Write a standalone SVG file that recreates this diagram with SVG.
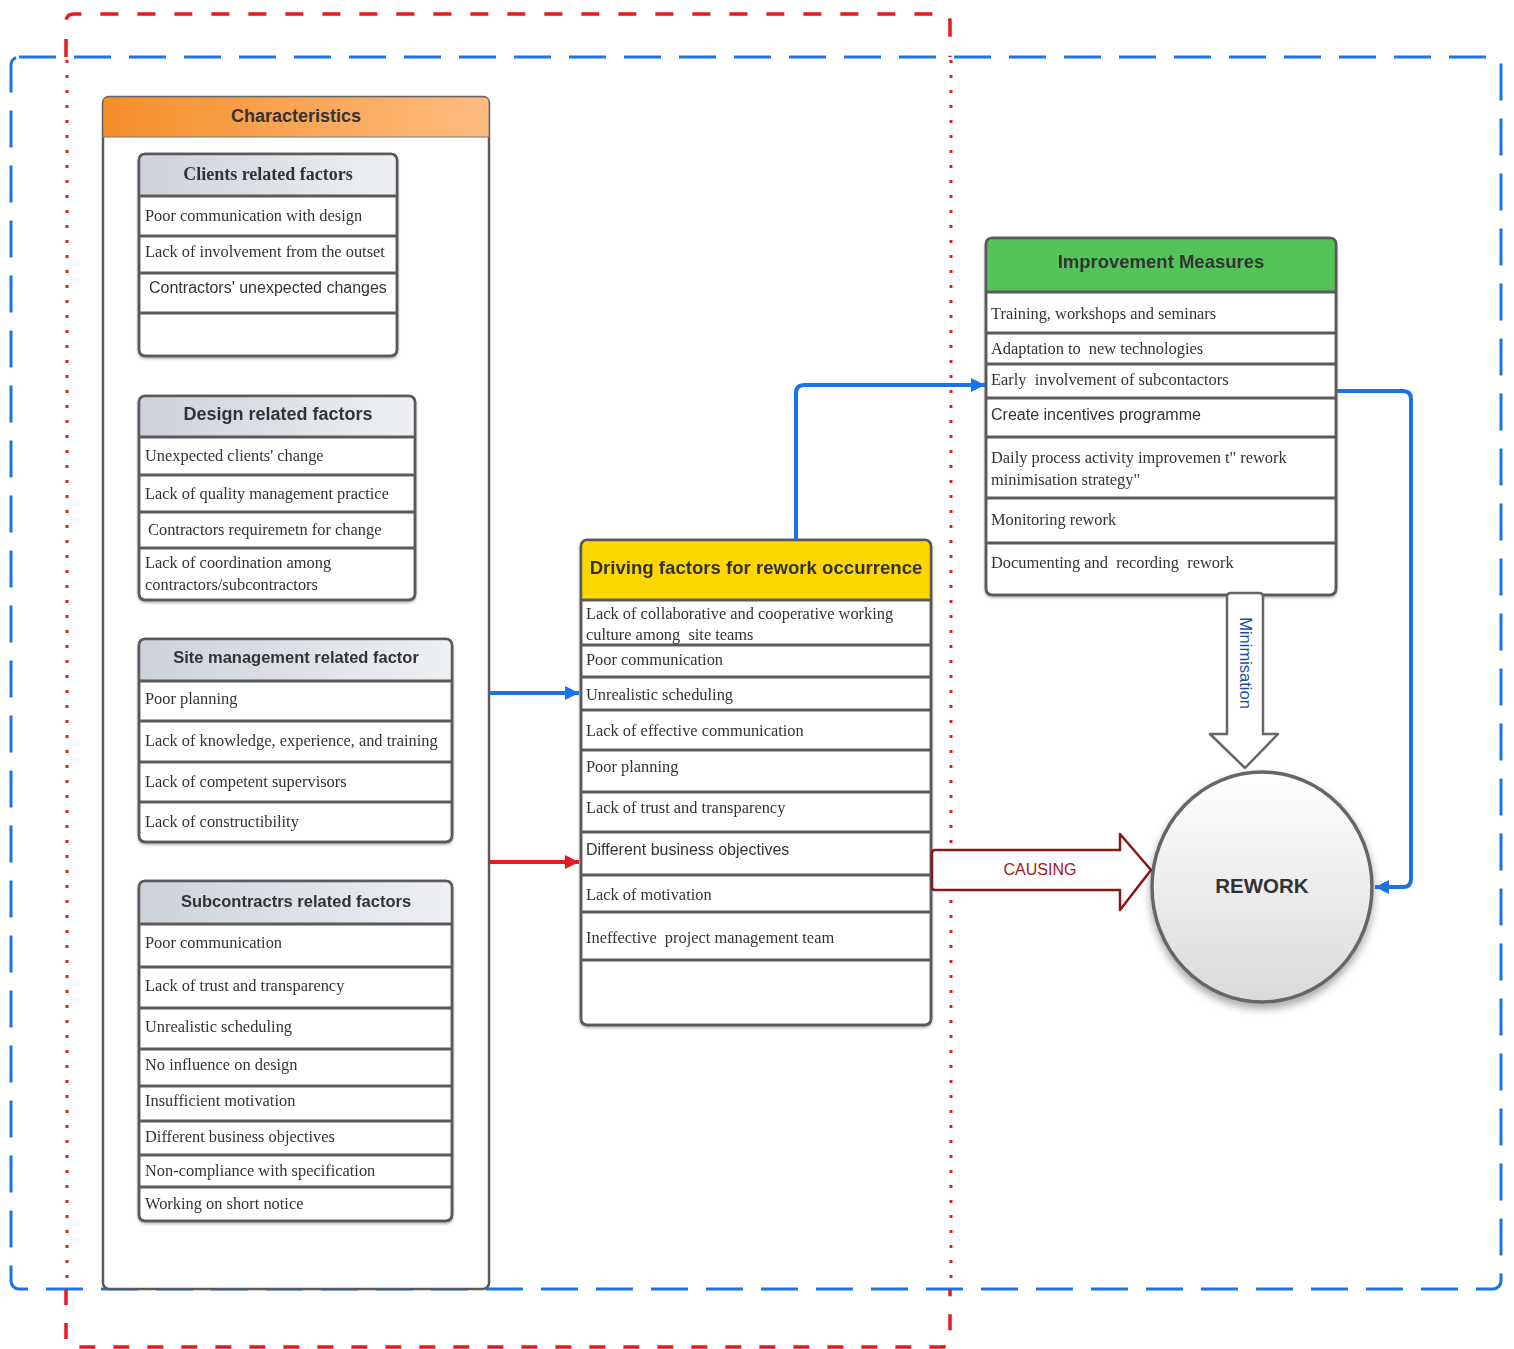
<svg xmlns="http://www.w3.org/2000/svg" width="1514" height="1349" viewBox="0 0 1514 1349">
<style>
.bx{fill:#fff;stroke:#5a5a5a;stroke-width:2.5}
.ln{stroke:#5a5a5a;stroke-width:3}
.hd{font-family:"Liberation Sans",Arial,sans-serif;font-weight:bold;fill:#333;text-anchor:middle}
.sr{font-family:"Liberation Serif","Times New Roman",serif;font-size:16.4px;fill:#333}
.ss{font-family:"Liberation Sans",Arial,sans-serif;font-size:16px;fill:#333}
.blue{fill:none;stroke:#1a73e8;stroke-width:4}
.red{fill:none;stroke:#e8191f;stroke-width:4}
</style>
<defs>
<linearGradient id="gOr" x1="0" y1="0" x2="1" y2="0"><stop offset="0" stop-color="#f58e2a"/><stop offset="1" stop-color="#ffbc80"/></linearGradient>
<linearGradient id="gGr" x1="0" y1="0" x2="1" y2="0"><stop offset="0" stop-color="#cdd2da"/><stop offset="1" stop-color="#eef0f3"/></linearGradient>
<linearGradient id="gCi" x1="0" y1="0" x2="0" y2="1"><stop offset="0" stop-color="#ffffff"/><stop offset="1" stop-color="#dadada"/></linearGradient>
<filter id="sh" x="-10%" y="-10%" width="120%" height="120%"><feDropShadow dx="0" dy="1.5" stdDeviation="1.2" flood-opacity="0.3"/></filter>
<filter id="shc" x="-20%" y="-20%" width="140%" height="140%"><feDropShadow dx="0" dy="5" stdDeviation="4" flood-opacity="0.35"/></filter>
<marker id="mb" markerUnits="userSpaceOnUse" markerWidth="14" markerHeight="14" refX="14" refY="7" orient="auto"><path d="M0,0 L14,7 L0,14 z" fill="#1a73e8"/></marker>
<marker id="mr" markerUnits="userSpaceOnUse" markerWidth="14" markerHeight="14" refX="14" refY="7" orient="auto"><path d="M0,0 L14,7 L0,14 z" fill="#e8191f"/></marker>
</defs>
<rect width="1514" height="1349" fill="#fff"/>

<g id="blue-boundary">
<rect x="11" y="57" width="1490" height="1232" rx="8" fill="none" stroke="#1a73e8" stroke-width="3" stroke-dasharray="37 18"/>
</g>
<g id="red-boundary" fill="none" stroke="#e8191f" stroke-width="3.5">
<path d="M66 57 V22 Q66 14 74 14 H942 Q950 14 950 22 V57" stroke-dasharray="18 19"/>
<path d="M67 60 V1289 M951 60 V1289" stroke-width="3" stroke-dasharray="3 12"/>
<path d="M66 1289 V1339 Q66 1347 74 1347 H942 Q950 1347 950 1339 V1289" stroke-dasharray="16 18"/>
</g>

<g id="characteristics">
<rect x="103" y="97" width="386" height="1192" rx="6" class="bx" stroke="#666" stroke-width="2"/>
<path d="M103 137 V103 Q103 97 109 97 H483 Q489 97 489 103 V137 Z" fill="url(#gOr)" stroke="#777" stroke-width="1"/>
<text x="296" y="122" class="hd" font-size="18">Characteristics</text>
</g>

<g id="clients" filter="url(#sh)">
<rect x="139" y="154" width="258" height="202" rx="6" class="bx"/>
<path d="M139 196 V160 Q139 154 145 154 H391 Q397 154 397 160 V196 Z" fill="url(#gGr)"/>
<rect x="139" y="154" width="258" height="202" rx="6" fill="none" stroke="#5a5a5a" stroke-width="2.5"/>
<path class="ln" d="M139 196 H397 M139 236 H397 M139 273 H397 M139 313 H397"/>
<text x="268" y="180" class="hd" font-size="18" style="font-family:'Liberation Serif','Times New Roman',serif">Clients related factors</text>
<text x="145" y="221" class="sr">Poor communication with design</text>
<text x="145" y="257" class="sr">Lack of involvement from the outset</text>
<text x="149" y="293" class="ss">Contractors' unexpected changes</text>
</g>

<g id="design" filter="url(#sh)">
<rect x="139" y="396" width="276" height="204" rx="6" class="bx"/>
<path d="M139 437 V402 Q139 396 145 396 H409 Q415 396 415 402 V437 Z" fill="url(#gGr)"/>
<rect x="139" y="396" width="276" height="204" rx="6" fill="none" stroke="#5a5a5a" stroke-width="2.5"/>
<path class="ln" d="M139 437 H415 M139 475 H415 M139 512 H415 M139 548 H415"/>
<text x="278" y="420" class="hd" font-size="18">Design related factors</text>
<text x="145" y="461" class="sr">Unexpected clients' change</text>
<text x="145" y="499" class="sr">Lack of quality management practice</text>
<text x="148" y="535" class="sr">Contractors requiremetn for change</text>
<text x="145" y="568" class="sr">Lack of coordination among</text>
<text x="145" y="590" class="sr">contractors/subcontractors</text>
</g>

<g id="site-management" filter="url(#sh)">
<rect x="139" y="639" width="313" height="203" rx="6" class="bx"/>
<path d="M139 681 V645 Q139 639 145 639 H446 Q452 639 452 645 V681 Z" fill="url(#gGr)"/>
<rect x="139" y="639" width="313" height="203" rx="6" fill="none" stroke="#5a5a5a" stroke-width="2.5"/>
<path class="ln" d="M139 681 H452 M139 721 H452 M139 762 H452 M139 802 H452"/>
<text x="296" y="663" class="hd" font-size="16.5">Site management related factor</text>
<text x="145" y="704" class="sr">Poor planning</text>
<text x="145" y="746" class="sr">Lack of knowledge, experience, and training</text>
<text x="145" y="787" class="sr">Lack of competent supervisors</text>
<text x="145" y="827" class="sr">Lack of constructibility</text>
</g>

<g id="subcontractors" filter="url(#sh)">
<rect x="139" y="881" width="313" height="340" rx="6" class="bx"/>
<path d="M139 923 V887 Q139 881 145 881 H446 Q452 881 452 887 V923 Z" fill="url(#gGr)"/>
<rect x="139" y="881" width="313" height="340" rx="6" fill="none" stroke="#5a5a5a" stroke-width="2.5"/>
<path class="ln" d="M139 924 H452 M139 967 H452 M139 1008 H452 M139 1049 H452 M139 1086 H452 M139 1121 H452 M139 1155 H452 M139 1187 H452"/>
<text x="296" y="907" class="hd" font-size="16.5">Subcontractrs related factors</text>
<text x="145" y="948" class="sr">Poor communication</text>
<text x="145" y="991" class="sr">Lack of trust and transparency</text>
<text x="145" y="1032" class="sr">Unrealistic scheduling</text>
<text x="145" y="1070" class="sr">No influence on design</text>
<text x="145" y="1106" class="sr">Insufficient motivation</text>
<text x="145" y="1142" class="sr">Different business objectives</text>
<text x="145" y="1176" class="sr">Non-compliance with specification</text>
<text x="145" y="1209" class="sr">Working on short notice</text>
</g>

<g id="driving-factors" filter="url(#sh)">
<rect x="581" y="540" width="350" height="485" rx="6" class="bx"/>
<path d="M581 599 V546 Q581 540 587 540 H925 Q931 540 931 546 V599 Z" fill="#ffd700"/>
<rect x="581" y="540" width="350" height="485" rx="6" fill="none" stroke="#5a5a5a" stroke-width="2.5"/>
<path class="ln" d="M581 600 H931 M581 645 H931 M581 677 H931 M581 710 H931 M581 750 H931 M581 792 H931 M581 832 H931 M581 875 H931 M581 912 H931 M581 960 H931"/>
<text x="756" y="574" class="hd" font-size="18.6">Driving factors for rework occurrence</text>
<text x="586" y="619" class="sr">Lack of collaborative and cooperative working</text>
<text x="586" y="640" class="sr" xml:space="preserve">culture among  site teams</text>
<text x="586" y="665" class="sr">Poor communication</text>
<text x="586" y="700" class="sr">Unrealistic scheduling</text>
<text x="586" y="736" class="sr">Lack of effective communication</text>
<text x="586" y="772" class="sr">Poor planning</text>
<text x="586" y="813" class="sr">Lack of trust and transparency</text>
<text x="586" y="855" class="ss">Different business objectives</text>
<text x="586" y="900" class="sr">Lack of motivation</text>
<text x="586" y="943" class="sr" xml:space="preserve">Ineffective  project management team</text>
</g>

<g id="improvement-measures" filter="url(#sh)">
<rect x="986" y="238" width="350" height="357" rx="6" class="bx"/>
<path d="M986 291 V244 Q986 238 992 238 H1330 Q1336 238 1336 244 V291 Z" fill="#52c35a"/>
<rect x="986" y="238" width="350" height="357" rx="6" fill="none" stroke="#5a5a5a" stroke-width="2.5"/>
<path class="ln" d="M986 292 H1336 M986 333 H1336 M986 364 H1336 M986 398 H1336 M986 437 H1336 M986 498 H1336 M986 543 H1336"/>
<text x="1161" y="268" class="hd" font-size="18.5">Improvement Measures</text>
<text x="991" y="319" class="sr">Training, workshops and seminars</text>
<text x="991" y="354" class="sr" xml:space="preserve">Adaptation to  new technologies</text>
<text x="991" y="385" class="sr" xml:space="preserve">Early  involvement of subcontactors</text>
<text x="991" y="420" class="ss">Create incentives programme</text>
<text x="991" y="463" class="sr">Daily process activity improvemen t" rework</text>
<text x="991" y="485" class="sr">minimisation strategy"</text>
<text x="991" y="525" class="sr">Monitoring rework</text>
<text x="991" y="568" class="sr" xml:space="preserve">Documenting and  recording  rework</text>
</g>

<g id="rework">
<ellipse cx="1262" cy="887" rx="110" ry="115" fill="url(#gCi)" stroke="#666" stroke-width="3.5" filter="url(#shc)"/>
<text x="1262" y="893" class="hd" font-size="20.5">REWORK</text>
</g>

<g id="connectors">
<path class="blue" d="M489 693 H579" marker-end="url(#mb)"/>
<path class="red" d="M489 862 H579" marker-end="url(#mr)"/>
<path class="blue" d="M796 540 V393 Q796 385 804 385 H985" marker-end="url(#mb)"/>
<path class="blue" d="M1337 391 H1403 Q1411 391 1411 399 V879 Q1411 887 1403 887 H1375" marker-end="url(#mb)"/>
<g id="causing">
<path d="M935 850 H1120 V834 L1151 870 L1120 910 V890 H935 Q932 890 932 887 V853 Q932 850 935 850 Z" fill="#fff" stroke="#8b1515" stroke-width="2.5" stroke-linejoin="round"/>
<text x="1040" y="875" font-family="'Liberation Sans',Arial,sans-serif" font-size="16" fill="#a01818" text-anchor="middle">CAUSING</text>
</g>
<g id="minimisation">
<path d="M1227 597 Q1227 593 1231 593 H1259 Q1263 593 1263 597 V734 H1278 L1245 768 L1210 734 H1227 Z" fill="#fff" stroke="#666" stroke-width="2.5" stroke-linejoin="round"/>
<text transform="translate(1240,663) rotate(90)" font-family="'Liberation Sans',Arial,sans-serif" font-size="16.5" fill="#1a4fa0" text-anchor="middle">Minimisation</text>
</g>
</g>
</svg>
